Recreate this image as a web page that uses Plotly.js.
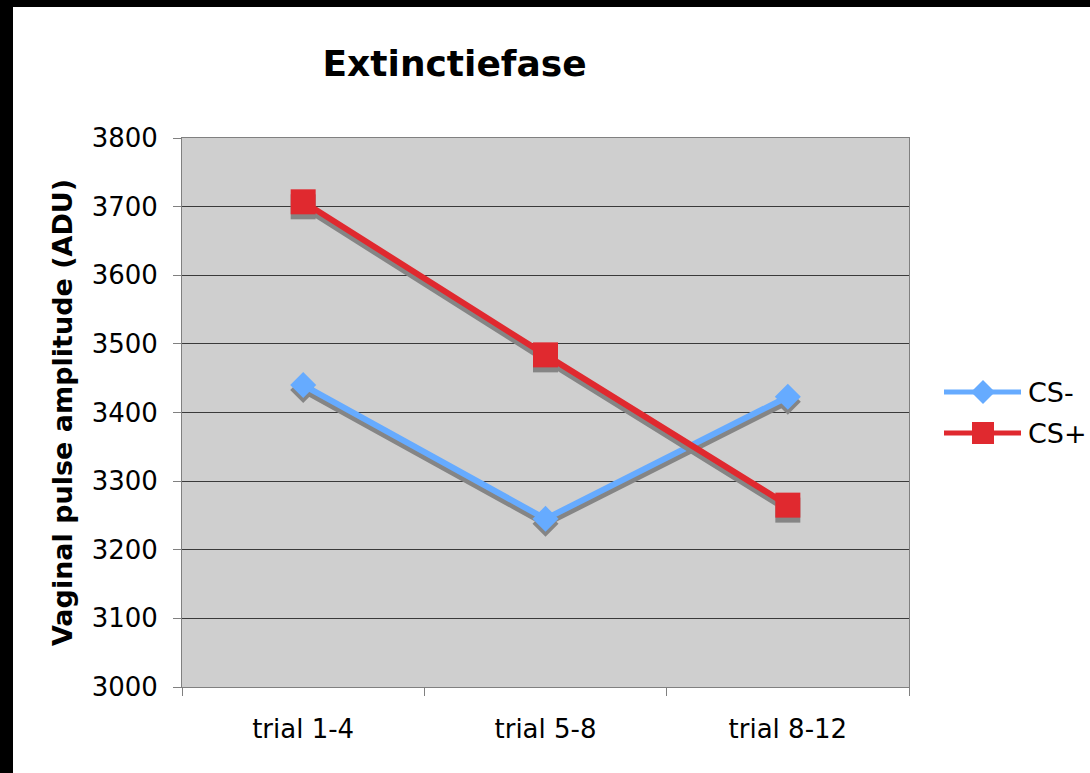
<!DOCTYPE html>
<html>
<head>
<meta charset="utf-8">
<script src="https://cdn.plot.ly/plotly-3.0.1.min.js"></script>
<style>
  html, body { margin: 0; padding: 0; background: #000; width: 1090px; height: 773px; overflow: hidden; }
  #chart { position: absolute; left: 13px; top: 7px; width: 1077px; height: 766px; background: #fff; }
</style>
</head>
<body>
<div id="chart"></div>
<script>
const categories = ["trial 1-4", "trial 5-8", "trial 8-12"];
const csMinus = [3440, 3245, 3423];
const csPlus = [3707, 3484, 3265];
const seriesNames = ["CS-", "CS+"];

const yRange = [3000, 3800];
const plotL = 169, plotT = 131, plotW = 727, plotH = 549;
const shadowDy = -5 * (yRange[1] - yRange[0]) / plotH;

const blue = "#66abff";
const red = "#e0292f";
const shadow = "#858585";

function shadowTrace(vals, sym, size) {
  return {
    x: categories, y: vals.map(v => v + shadowDy), type: "scatter", mode: "lines+markers",
    line: {color: shadow, width: 6}, marker: {symbol: sym, size: size, color: shadow},
    showlegend: false, hoverinfo: "skip"
  };
}

const data = [
  shadowTrace(csMinus, "diamond", 20),
  {x: categories, y: csMinus, name: seriesNames[0], type: "scatter", mode: "lines+markers",
   line: {color: blue, width: 6}, marker: {symbol: "diamond", size: 20, color: blue}},
  shadowTrace(csPlus, "square", 25),
  {x: categories, y: csPlus, name: seriesNames[1], type: "scatter", mode: "lines+markers",
   line: {color: red, width: 6}, marker: {symbol: "square", size: 25, color: red}}
];

// custom legend (pixel positions inside the chart div converted to paper coords)
const px2x = p => (p - 13 - plotL) / plotW;
const py2y = p => (plotT + plotH - (p - 7)) / plotH;
const legendItems = [
  {name: seriesNames[0], color: blue, sym: "diamond", py: 392},
  {name: seriesNames[1], color: red, sym: "square", py: 433}
];
const shapes = [];
const annotations = [];
legendItems.forEach(it => {
  shapes.push({type: "line", xref: "paper", yref: "paper", x0: px2x(944), x1: px2x(1021),
    y0: py2y(it.py), y1: py2y(it.py), line: {color: it.color, width: 5}});
  const path = it.sym === "diamond"
    ? "M0,-12 L12,0 L0,12 L-12,0 Z"
    : "M-11,-11 L11,-11 L11,11 L-11,11 Z";
  shapes.push({type: "path", xref: "paper", yref: "paper", xsizemode: "pixel", ysizemode: "pixel",
    xanchor: px2x(983), yanchor: py2y(it.py), path: path, fillcolor: it.color, line: {width: 0}});
  annotations.push({xref: "paper", yref: "paper", x: px2x(1026), y: py2y(it.py), xanchor: "left",
    yanchor: "middle", text: it.name, showarrow: false, font: {size: 27}});
});

const layout = {
  width: 1077, height: 766,
  margin: {l: plotL, r: 1077 - plotL - plotW, t: plotT, b: 766 - plotT - plotH},
  paper_bgcolor: "#ffffff",
  plot_bgcolor: "#cfcfcf",
  font: {family: "DejaVu Sans, Verdana, sans-serif", color: "#000", size: 26},
  title: {text: "<b>Extinctiefase</b>", font: {size: 36}, x: 0.41, xanchor: "center", y: 0.926, yanchor: "middle"},
  xaxis: {
    type: "category", tickson: "boundaries", ticks: "outside", ticklen: 8, tickcolor: "#808080",
    showgrid: false, showline: true, linecolor: "#808080", linewidth: 1, mirror: true,
    tickfont: {size: 26}, range: [-0.5, 2.5], zeroline: false, ticklabelstandoff: 19
  },
  yaxis: {
    range: yRange, dtick: 100, ticks: "outside", ticklen: 8, tickcolor: "#808080",
    showgrid: true, gridcolor: "#3a3a3a", gridwidth: 1,
    showline: true, linecolor: "#808080", linewidth: 1, mirror: true, zeroline: false,
    tickfont: {size: 26}, ticklabelstandoff: 10,
    title: {text: "<b>Vaginal pulse amplitude (ADU)</b>", font: {size: 27}, standoff: 11}
  },
  shapes: shapes,
  annotations: annotations,
  showlegend: false
};

Plotly.newPlot("chart", data, layout, {displayModeBar: false, staticPlot: true});
</script>
</body>
</html>
